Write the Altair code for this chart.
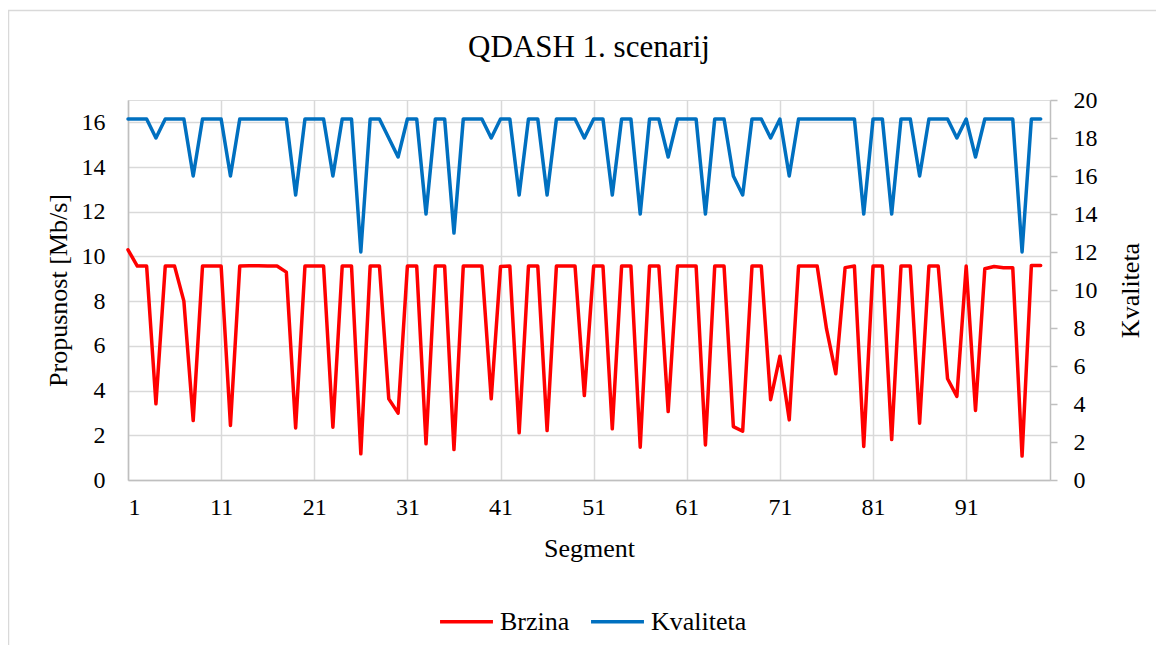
import altair as alt
import pandas as pd

segments = list(range(1, 100))

brzina = [
    10.3, 9.57, 9.57, 3.41, 9.57, 9.57, 8.0, 2.66, 9.57, 9.57,
    9.57, 2.44, 9.57, 9.58, 9.58, 9.57, 9.57, 9.3, 2.33, 9.57,
    9.57, 9.57, 2.36, 9.57, 9.57, 1.17, 9.57, 9.57, 3.63, 2.99,
    9.57, 9.57, 1.62, 9.57, 9.57, 1.36, 9.57, 9.57, 9.57, 3.63,
    9.55, 9.57, 2.11, 9.57, 9.57, 2.21, 9.57, 9.57, 9.57, 3.78,
    9.57, 9.57, 2.29, 9.57, 9.57, 1.47, 9.57, 9.57, 3.06, 9.57,
    9.57, 9.57, 1.57, 9.57, 9.57, 2.39, 2.18, 9.57, 9.57, 3.59,
    5.54, 2.69, 9.57, 9.57, 9.57, 6.77, 4.75, 9.5, 9.57, 1.5,
    9.57, 9.57, 1.81, 9.57, 9.57, 2.54, 9.57, 9.57, 4.53, 3.74,
    9.57, 3.11, 9.45, 9.55, 9.5, 9.5, 1.07, 9.6, 9.6,
]

kvaliteta = [
    19, 19, 19, 18, 19, 19, 19, 16, 19, 19,
    19, 16, 19, 19, 19, 19, 19, 19, 15, 19,
    19, 19, 16, 19, 19, 12, 19, 19, 18, 17,
    19, 19, 14, 19, 19, 13, 19, 19, 19, 18,
    19, 19, 15, 19, 19, 15, 19, 19, 19, 18,
    19, 19, 15, 19, 19, 14, 19, 19, 17, 19,
    19, 19, 14, 19, 19, 16, 15, 19, 19, 18,
    19, 16, 19, 19, 19, 19, 19, 19, 19, 14,
    19, 19, 14, 19, 19, 16, 19, 19, 19, 18,
    19, 17, 19, 19, 19, 19, 12, 19, 19,
]

series_names = ["Brzina", "Kvaliteta"]
series_colors = ["#ff0000", "#0070c0"]
x_ticks = [1, 11, 21, 31, 41, 51, 61, 71, 81, 91]
left_ticks = [0, 2, 4, 6, 8, 10, 12, 14, 16]
right_ticks = [0, 2, 4, 6, 8, 10, 12, 14, 16, 18, 20]
chart_title = "QDASH 1. scenarij"

n = len(segments)
df = pd.DataFrame({
    "Segment": segments + segments,
    "value": brzina + kvaliteta,
    "series": ["Brzina"] * n + ["Kvaliteta"] * n,
})

FONT = "'Liberation Serif', 'Times New Roman', 'DejaVu Serif', serif"
GRID = "#d9d9d9"
AXIS = "#bfbfbf"

color = alt.Color(
    "series:N",
    scale=alt.Scale(domain=series_names, range=series_colors),
    legend=alt.Legend(
        title=None, orient="none", direction="horizontal",
        legendX=310, legendY=493, padding=0,
        symbolType="stroke", symbolSize=2800, symbolStrokeWidth=3.5,
        labelFont=FONT, labelFontSize=26, labelColor="black",
        columnPadding=14, labelOffset=5,
    ),
)

x_enc = alt.X(
    "Segment:Q",
    scale=alt.Scale(domain=[1, 100], nice=False, zero=False),
    axis=alt.Axis(
        values=x_ticks, title="Segment", grid=True, gridColor=GRID, gridWidth=1.5,
        domainColor=AXIS, domainWidth=1.5, ticks=False,
        labelFont=FONT, labelFontSize=24, labelColor="black", labelPadding=15,
        labelBaseline="top",
        titleFont=FONT, titleFontSize=26, titleFontWeight="normal", titleColor="black",
        titleY=68, titleBaseline="middle",
    ),
)

base = alt.Chart(df)

red = base.transform_filter(alt.datum.series == "Brzina").mark_line(
    strokeWidth=3.5, strokeJoin="round", strokeCap="round"
).encode(
    x=x_enc,
    y=alt.Y(
        "value:Q",
        scale=alt.Scale(domain=[0, 17], nice=False),
        axis=alt.Axis(
            orient="left", values=left_ticks, title="Propusnost [Mb/s]",
            grid=True, gridColor=GRID, gridWidth=1.5,
            domainColor=AXIS, domainWidth=1.5, ticks=False,
            labelFont=FONT, labelFontSize=24, labelColor="black", labelPadding=23,
            titleFont=FONT, titleFontSize=26, titleFontWeight="normal", titleColor="black",
            titleX=-70, titleY=190, titleAngle=270, titleBaseline="middle", titleAlign="center",
        ),
    ),
    color=color,
)

blue = base.transform_filter(alt.datum.series == "Kvaliteta").mark_line(
    strokeWidth=3.5, strokeJoin="round", strokeCap="round"
).encode(
    x=x_enc,
    y=alt.Y(
        "value:Q",
        scale=alt.Scale(domain=[0, 20], nice=False),
        axis=alt.Axis(
            orient="right", values=right_ticks, title="Kvaliteta",
            grid=False, domainColor=AXIS, domainWidth=1.5,
            ticks=True, tickSize=7, tickColor=AXIS, tickWidth=1.5,
            labelFont=FONT, labelFontSize=24, labelColor="black", labelPadding=16,
            titleFont=FONT, titleFontSize=26, titleFontWeight="normal", titleColor="black",
            titleX=80, titleY=190, titleAngle=270, titleBaseline="middle", titleAlign="center",
        ),
    ),
    color=color,
)

frame = alt.Chart(alt.Data(values=[{}])).mark_rect(
    fill=None, stroke=GRID, strokeWidth=1.5
).encode(
    x=alt.value(-119.5), x2=alt.value(1040),
    y=alt.value(-89.5), y2=alt.value(560),
)

title = alt.Chart(alt.Data(values=[{}])).mark_text(
    font=FONT, fontSize=31, color="black", align="center", baseline="alphabetic"
).encode(
    x=alt.value(461), y=alt.value(-43), text=alt.value(chart_title),
)

chart = alt.layer(frame, title, red, blue).resolve_scale(y="independent").properties(
    width=922,
    height=380,
    autosize=alt.AutoSizeParams(type="none"),
    padding={"left": 120, "top": 92, "right": 106, "bottom": 165},
).configure_view(stroke=None).configure(background="white", font=FONT)

chart.save("out.html", embed_options={"renderer": "svg", "actions": False})
